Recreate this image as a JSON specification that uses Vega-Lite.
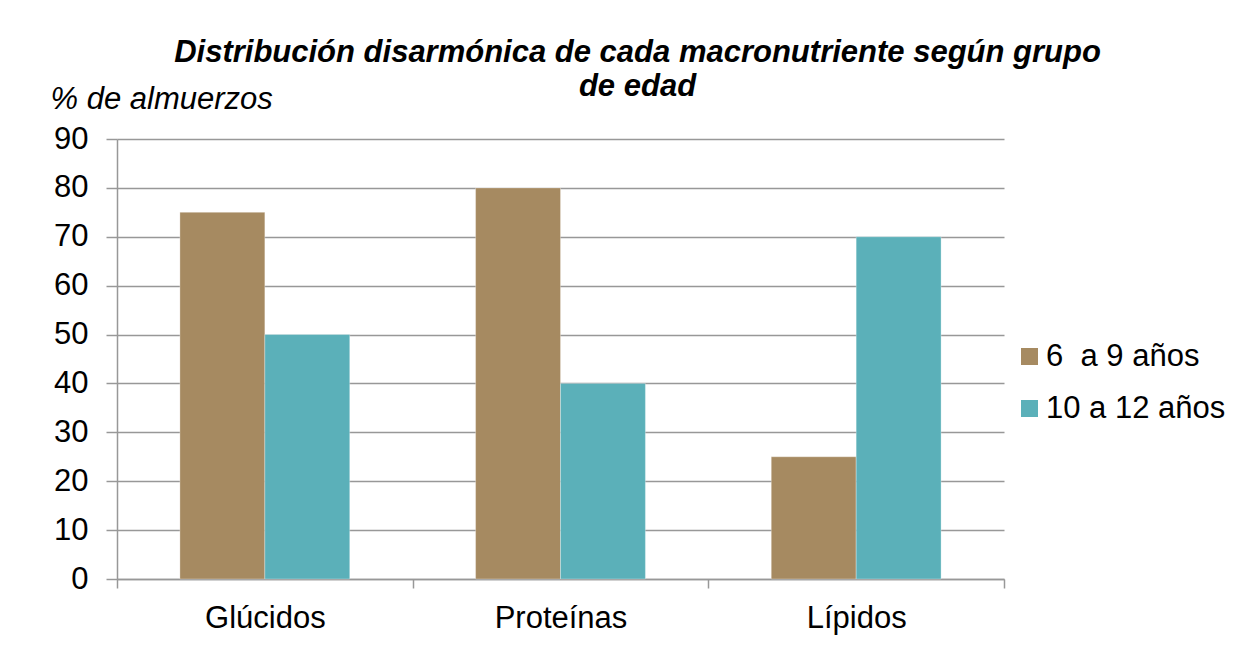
{
  "$schema": "https://vega.github.io/schema/vega-lite/v6.json",
  "width": 887,
  "height": 440,
  "autosize": {"type": "none"},
  "padding": {"left": 117, "top": 139, "right": 242, "bottom": 69},
  "background": "white",
  "title": {
    "text": ["Distribución disarmónica de cada macronutriente según grupo", "de edad"],
    "font": "Liberation Sans",
    "fontSize": 31,
    "fontWeight": "bold",
    "fontStyle": "italic",
    "color": "#000000",
    "anchor": "middle",
    "frame": "group",
    "dx": 77,
    "dy": 30,
    "lineHeight": 34,
    "offset": 10
  },
  "data": {
    "values": [
      {"nutriente": "Glúcidos", "grupo": "6  a 9 años", "valor": 75},
      {"nutriente": "Glúcidos", "grupo": "10 a 12 años", "valor": 50},
      {"nutriente": "Proteínas", "grupo": "6  a 9 años", "valor": 80},
      {"nutriente": "Proteínas", "grupo": "10 a 12 años", "valor": 40},
      {"nutriente": "Lípidos", "grupo": "6  a 9 años", "valor": 25},
      {"nutriente": "Lípidos", "grupo": "10 a 12 años", "valor": 70}
    ]
  },
  "mark": {"type": "bar", "stroke": "#ffffff", "strokeWidth": 0.5, "strokeOpacity": 0.6},
  "encoding": {
    "x": {
      "field": "nutriente",
      "type": "nominal",
      "sort": ["Glúcidos", "Proteínas", "Lípidos"],
      "scale": {"paddingInner": 0, "paddingOuter": 0},
      "axis": {
        "title": null,
        "labelAngle": 0,
        "labelFont": "Liberation Sans",
        "labelFontSize": 31,
        "labelColor": "#000000",
        "labelPadding": 15,
        "tickBand": "extent",
        "tickSize": 9,
        "tickColor": "#989898",
        "tickWidth": 1.5,
        "domainColor": "#989898",
        "domainWidth": 1.5,
        "grid": false
      }
    },
    "xOffset": {
      "field": "grupo",
      "type": "nominal",
      "sort": ["6  a 9 años", "10 a 12 años"],
      "scale": {"paddingInner": 0, "paddingOuter": 0.741}
    },
    "y": {
      "field": "valor",
      "type": "quantitative",
      "scale": {"domain": [0, 90], "nice": false},
      "axis": {
        "values": [0, 10, 20, 30, 40, 50, 60, 70, 80, 90],
        "title": "% de almuerzos",
        "titleFont": "Liberation Sans",
        "titleFontSize": 31,
        "titleFontStyle": "italic",
        "titleFontWeight": "normal",
        "titleColor": "#000000",
        "titleAngle": 0,
        "titleAlign": "left",
        "titleBaseline": "alphabetic",
        "titleX": -67,
        "titleY": -31,
        "labelFont": "Liberation Sans",
        "labelFontSize": 31,
        "labelColor": "#000000",
        "labelPadding": 18,
        "tickSize": 11,
        "tickColor": "#989898",
        "tickWidth": 1.5,
        "domainColor": "#989898",
        "domainWidth": 1.5,
        "gridColor": "#989898",
        "gridWidth": 1.5
      }
    },
    "color": {
      "field": "grupo",
      "type": "nominal",
      "sort": ["6  a 9 años", "10 a 12 años"],
      "scale": {"domain": ["6  a 9 años", "10 a 12 años"], "range": ["#A68A61", "#5BB0B9"]},
      "legend": {
        "title": null,
        "orient": "none",
        "legendX": 897,
        "legendY": 202,
        "symbolType": "square",
        "symbolSize": 289,
        "symbolStrokeWidth": 0,
        "symbolOpacity": 1,
        "labelFont": "Liberation Sans",
        "labelFontSize": 31,
        "labelColor": "#000000",
        "labelOffset": 1,
        "rowPadding": 20,
        "labelLimit": 300,
        "labelExpr": "datum.label == '6  a 9 años' ? '6\u00a0 a 9 años' : datum.label"
      }
    }
  },
  "config": {
    "view": {"stroke": null}
  }
}
